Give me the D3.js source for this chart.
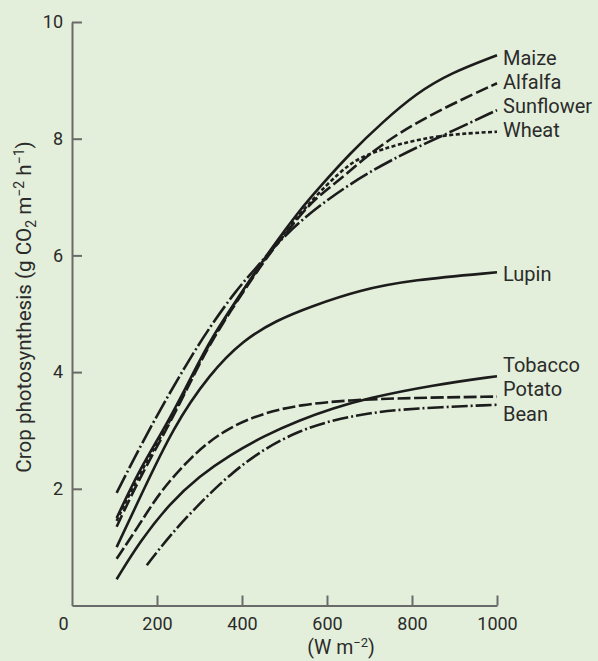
<!DOCTYPE html>
<html>
<head>
<meta charset="utf-8">
<script src="https://cdn.jsdelivr.net/npm/d3@7"></script>
<style>
  html, body { margin: 0; padding: 0; background: #e3efda; }
  svg { display: block; }
  text { font-family: Roboto, "Open Sans", sans-serif; fill: #2b2b2b; }
</style>
</head>
<body>
<svg id="chart" width="598" height="661"></svg>
<script>
// ---- data (irradiance W m-2, photosynthesis g CO2 m-2 h-1) ----
const seriesNames = ["Maize", "Alfalfa", "Sunflower", "Wheat", "Lupin", "Tobacco", "Potato", "Bean"];

const maize     = [[105,1.5],[160,2.35],[223,3.1],[285,3.98],[325,4.55],[403,5.41],[466,6.09],[536,6.78],[584,7.18],[654,7.75],[733,8.3],[811,8.78],[889,9.12],[1000,9.43]];
const alfalfa   = [[105,1.35],[160,2.2],[223,3.02],[285,3.92],[325,4.5],[403,5.38],[466,6.05],[536,6.68],[573,6.98],[631,7.3],[693,7.7],[772,8.12],[889,8.58],[1000,8.95]];
const sunflower = [[105,1.93],[184,3.06],[270,4.15],[325,4.78],[387,5.41],[435,5.8],[466,6.07],[536,6.6],[654,7.24],[772,7.72],[874,8.06],[1000,8.49]];
const wheat     = [[105,1.45],[160,2.28],[223,3.05],[285,3.95],[325,4.52],[403,5.4],[466,6.07],[536,6.72],[600,7.22],[650,7.55],[690,7.72],[772,7.92],[874,8.07],[1000,8.12]];
const lupin     = [[105,1.0],[160,1.85],[238,3.06],[325,3.98],[403,4.55],[482,4.89],[560,5.12],[678,5.41],[800,5.58],[1000,5.71]];
const tobacco   = [[105,0.45],[160,1.1],[230,1.75],[300,2.22],[372,2.58],[450,2.9],[536,3.18],[615,3.38],[693,3.55],[850,3.78],[1000,3.93]];
const potato    = [[105,0.8],[160,1.4],[207,1.95],[280,2.55],[356,3.01],[450,3.3],[536,3.44],[650,3.52],[800,3.56],[1000,3.58]];
const bean      = [[176,0.69],[230,1.2],[300,1.75],[372,2.25],[450,2.68],[536,3.0],[615,3.18],[700,3.3],[800,3.38],[1000,3.44]];

const seriesData = [maize, alfalfa, sunflower, wheat, lupin, tobacco, potato, bean];
const labelValues = [9.38, 8.97, 8.56, 8.15, 5.68, 4.12, 3.71, 3.28];

const xTicks = [0, 200, 400, 600, 800, 1000];
const yTicks = [2, 4, 6, 8, 10];

// ---- styles ----
const dashStyles = {
  Maize: null,
  Alfalfa: "13,4",
  Sunflower: "20,3,2,3",
  Wheat: "4,2.5",
  Lupin: null,
  Tobacco: null,
  Potato: "13,3.5",
  Bean: "16,3,2,3"
};

const svg = d3.select("#chart");
const x = d3.scaleLinear().domain([0, 1000]).range([72, 497]);
const y = d3.scaleLinear().domain([0, 10]).range([605.5, 22]);

const axisColor = "#6a6a6a";
const fontFam = "Roboto, 'Open Sans', sans-serif";

// axes
const gx = svg.append("g").attr("transform", `translate(0,${y(0)})`)
  .call(d3.axisBottom(x).tickValues(xTicks).tickSize(0).tickPadding(12)
        .tickFormat(d3.format("d")));
gx.select(".domain").attr("stroke", axisColor).attr("stroke-width", 2);
gx.selectAll("text").attr("font-size", 18).attr("fill", "#2b2b2b")
  .attr("font-family", fontFam);
gx.selectAll(".tick").filter(d => d === 0).select("text").attr("dx", -9);
// inward x ticks
gx.selectAll(".tick").filter(d => d !== 0).append("line")
  .attr("y1", 0).attr("y2", -10).attr("stroke", axisColor).attr("stroke-width", 2);

const gy = svg.append("g").attr("transform", `translate(${x(0)},0)`)
  .call(d3.axisLeft(y).tickValues(yTicks).tickSize(0).tickPadding(9));
gy.select(".domain").attr("stroke", axisColor).attr("stroke-width", 2);
gy.selectAll("text").attr("font-size", 18).attr("fill", "#2b2b2b")
  .attr("font-family", fontFam);
gy.selectAll(".tick").append("line")
  .attr("x1", 0).attr("x2", 10).attr("stroke", axisColor).attr("stroke-width", 2);

// curves
const line = d3.line()
  .x(d => x(d[0]))
  .y(d => y(d[1]))
  .curve(d3.curveBasis);

seriesNames.forEach((name, i) => {
  svg.append("path")
    .datum(seriesData[i])
    .attr("d", line)
    .attr("fill", "none")
    .attr("stroke", "#1c1c1c")
    .attr("stroke-width", 2.6)
    .attr("stroke-dasharray", dashStyles[name])
    .attr("stroke-linecap", "butt");
});

// series labels
svg.append("g").selectAll("text")
  .data(seriesNames)
  .join("text")
  .attr("x", x(1000) + 6)
  .attr("y", (d, i) => y(labelValues[i]))
  .attr("dy", "0.35em")
  .attr("font-size", 20)
  .text(d => d);

// axis titles
const yt = svg.append("text")
  .attr("transform", `translate(31,${307}) rotate(-90)`)
  .attr("text-anchor", "middle")
  .attr("font-size", 20.6);
yt.append("tspan").text("Crop photosynthesis (g CO");
yt.append("tspan").attr("font-size", 14).attr("dy", 5).text("2");
yt.append("tspan").attr("dy", -5).text(" m");
yt.append("tspan").attr("font-size", 14).attr("dy", -7).text("\u22122");
yt.append("tspan").attr("dy", 7).text(" h");
yt.append("tspan").attr("font-size", 14).attr("dy", -7).text("\u22121");
yt.append("tspan").attr("dy", 7).text(")");

const xt = svg.append("text")
  .attr("x", 341).attr("y", 654)
  .attr("text-anchor", "middle")
  .attr("font-size", 19.5);
xt.append("tspan").text("(W m");
xt.append("tspan").attr("font-size", 13).attr("dy", -7).text("\u22122");
xt.append("tspan").attr("dy", 7).text(")");
</script>
</body>
</html>
